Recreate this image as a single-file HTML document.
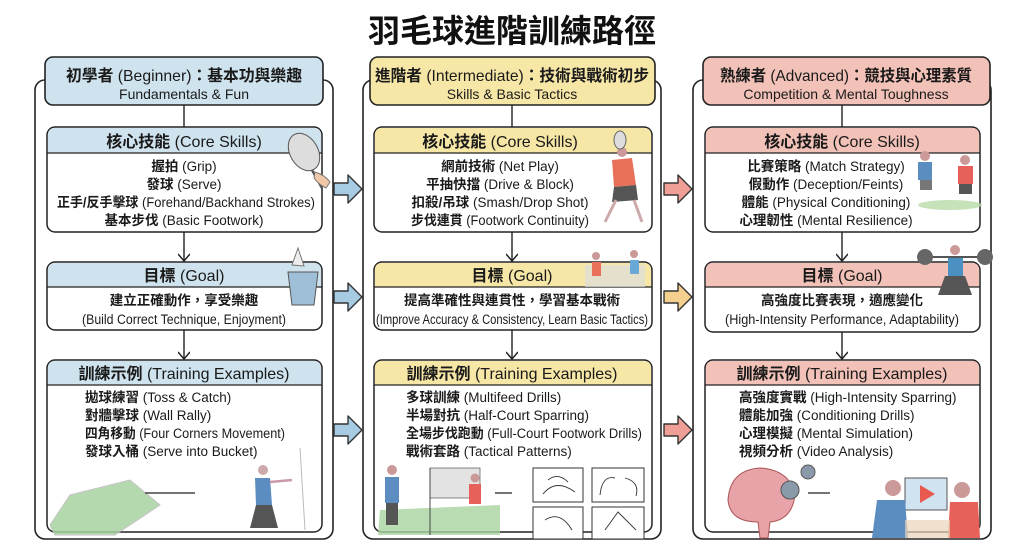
<!DOCTYPE html>
<html><head><meta charset="utf-8">
<style>
html,body{margin:0;padding:0;background:#fff;}
svg{display:block;}
text{font-family:"Liberation Sans Narrow","Liberation Sans","Noto Sans CJK TC",sans-serif;fill:#1a1a1a;}
.cj{font-family:"Liberation Sans","Noto Sans CJK TC",sans-serif;font-weight:bold;}
</style></head><body>
<svg width="1024" height="559" viewBox="0 0 1024 559" xmlns="http://www.w3.org/2000/svg">
<defs>
<marker id="ah" markerWidth="12" markerHeight="12" refX="9" refY="6" orient="auto" markerUnits="userSpaceOnUse">
<path d="M2,0 L9,6 L2,12" fill="none" stroke="#222" stroke-width="1.5"/>
</marker>
</defs>
<rect width="1024" height="559" fill="#fff"/>
<text x="512" y="42" text-anchor="middle" class="cj" font-size="32" style="fill:#111">羽毛球進階訓練路徑</text>

<g fill="none" stroke="#222" stroke-width="1.6">
<rect x="35" y="80" width="298" height="459" rx="10"/>
<rect x="363" y="80" width="298" height="459" rx="10"/>
<rect x="693" y="80" width="298" height="459" rx="10"/>
</g>

<!-- COL 1 -->
<g>
<rect x="45" y="57" width="278" height="48" rx="8" fill="#cfe3ee" stroke="#222" stroke-width="1.6"/>
<line x1="184" y1="105" x2="184" y2="127" stroke="#222" stroke-width="1.4"/>
<rect x="47" y="127" width="275" height="105" rx="8" fill="#fff" stroke="#222" stroke-width="1.5"/>
<path d="M48,153 L48,135 Q48,128 55,128 L314,128 Q321,128 321,135 L321,153 Z" fill="#cfe3ee"/>
<line x1="47" y1="153" x2="322" y2="153" stroke="#222" stroke-width="1.2"/>
<line x1="184" y1="232" x2="184" y2="261" stroke="#222" stroke-width="1.4" marker-end="url(#ah)"/>
<rect x="47" y="262" width="275" height="68" rx="8" fill="#fff" stroke="#222" stroke-width="1.5"/>
<path d="M48,287 L48,270 Q48,263 55,263 L314,263 Q321,263 321,270 L321,287 Z" fill="#cfe3ee"/>
<line x1="47" y1="287" x2="322" y2="287" stroke="#222" stroke-width="1.2"/>
<line x1="184" y1="330" x2="184" y2="359" stroke="#222" stroke-width="1.4" marker-end="url(#ah)"/>
<rect x="47" y="360" width="275" height="172" rx="8" fill="#fff" stroke="#222" stroke-width="1.5"/>
<path d="M48,385 L48,368 Q48,361 55,361 L314,361 Q321,361 321,368 L321,385 Z" fill="#cfe3ee"/>
<line x1="47" y1="385" x2="322" y2="385" stroke="#222" stroke-width="1.2"/>
<text x="184" y="81" text-anchor="middle" font-size="16" textLength="236" lengthAdjust="spacingAndGlyphs"><tspan class="cj">初學者</tspan> (Beginner)<tspan class="cj">：基本功與樂趣</tspan></text>
<text x="184" y="99" text-anchor="middle" font-size="14">Fundamentals &amp; Fun</text>
<text x="184" y="147" text-anchor="middle" font-size="16"><tspan class="cj">核心技能</tspan> (Core Skills)</text>
<text x="184" y="171" text-anchor="middle" font-size="13.5"><tspan class="cj">握拍</tspan> (Grip)</text>
<text x="184" y="189" text-anchor="middle" font-size="13.5"><tspan class="cj">發球</tspan> (Serve)</text>
<text x="186" y="207" text-anchor="middle" font-size="13.5" textLength="258" lengthAdjust="spacingAndGlyphs"><tspan class="cj">正手/反手擊球</tspan> (Forehand/Backhand Strokes)</text>
<text x="184" y="225" text-anchor="middle" font-size="13.5"><tspan class="cj">基本步伐</tspan> (Basic Footwork)</text>
<text x="184" y="281" text-anchor="middle" font-size="16"><tspan class="cj">目標</tspan> (Goal)</text>
<text x="184" y="305" text-anchor="middle" font-size="13.5" class="cj">建立正確動作，享受樂趣</text>
<text x="184" y="324" text-anchor="middle" font-size="13.5" textLength="204" lengthAdjust="spacingAndGlyphs">(Build Correct Technique, Enjoyment)</text>
<text x="184" y="379" text-anchor="middle" font-size="16"><tspan class="cj">訓練示例</tspan> (Training Examples)</text>
<text x="85" y="402" font-size="13.5"><tspan class="cj">拋球練習</tspan> (Toss &amp; Catch)</text>
<text x="85" y="420" font-size="13.5"><tspan class="cj">對牆擊球</tspan> (Wall Rally)</text>
<text x="85" y="438" font-size="13.5" textLength="200" lengthAdjust="spacingAndGlyphs"><tspan class="cj">四角移動</tspan> (Four Corners Movement)</text>
<text x="85" y="456" font-size="13.5"><tspan class="cj">發球入桶</tspan> (Serve into Bucket)</text>
<ellipse cx="304" cy="152" rx="14" ry="20" transform="rotate(-30 304 152)" fill="#ddd" stroke="#555"/>
<line x1="312" y1="170" x2="322" y2="188" stroke="#555" stroke-width="2.5"/>
<path d="M315,172 Q325,175 330,182 L326,188 Q318,184 314,178Z" fill="#f0c8a8" stroke="#777"/>
<path d="M288,272 L318,272 L314,305 L292,305Z" fill="#9fbfd8" stroke="#555"/>
<path d="M292,265 L298,248 L304,266Z" fill="#eee" stroke="#777"/>
<path d="M50,525 L70,495 L130,480 L160,505 L115,535 L55,535Z" fill="#a9d3a0" stroke="#bbb" opacity="0.85"/>
<line x1="145" y1="493" x2="195" y2="493" stroke="#222" stroke-width="1.3"/>
<line x1="300" y1="448" x2="305" y2="530" stroke="#bbb"/>
<circle cx="263" cy="470" r="5" fill="#caa" />
<path d="M255,478 L270,478 L272,505 L256,505Z" fill="#5b8dc0"/>
<path d="M256,505 L272,505 L278,528 L250,528Z" fill="#555"/>
<line x1="270" y1="482" x2="292" y2="480" stroke="#c9a" stroke-width="2.5"/>
</g>

<!-- COL 2 -->
<g>
<rect x="370" y="57" width="285" height="48" rx="8" fill="#f7e7a6" stroke="#222" stroke-width="1.6"/>
<line x1="512" y1="105" x2="512" y2="127" stroke="#222" stroke-width="1.4"/>
<rect x="374" y="127" width="278" height="105" rx="8" fill="#fff" stroke="#222" stroke-width="1.5"/>
<path d="M375,153 L375,135 Q375,128 382,128 L644,128 Q651,128 651,135 L651,153 Z" fill="#f7e7a6"/>
<line x1="374" y1="153" x2="652" y2="153" stroke="#222" stroke-width="1.2"/>
<line x1="512" y1="232" x2="512" y2="261" stroke="#222" stroke-width="1.4" marker-end="url(#ah)"/>
<rect x="374" y="262" width="278" height="68" rx="8" fill="#fff" stroke="#222" stroke-width="1.5"/>
<path d="M375,287 L375,270 Q375,263 382,263 L644,263 Q651,263 651,270 L651,287 Z" fill="#f7e7a6"/>
<line x1="374" y1="287" x2="652" y2="287" stroke="#222" stroke-width="1.2"/>
<line x1="512" y1="330" x2="512" y2="359" stroke="#222" stroke-width="1.4" marker-end="url(#ah)"/>
<rect x="374" y="360" width="278" height="172" rx="8" fill="#fff" stroke="#222" stroke-width="1.5"/>
<path d="M375,385 L375,368 Q375,361 382,361 L644,361 Q651,361 651,368 L651,385 Z" fill="#f7e7a6"/>
<line x1="374" y1="385" x2="652" y2="385" stroke="#222" stroke-width="1.2"/>
<text x="512" y="81" text-anchor="middle" font-size="16" textLength="274" lengthAdjust="spacingAndGlyphs"><tspan class="cj">進階者</tspan> (Intermediate)<tspan class="cj">：技術與戰術初步</tspan></text>
<text x="512" y="99" text-anchor="middle" font-size="14">Skills &amp; Basic Tactics</text>
<text x="500" y="147" text-anchor="middle" font-size="16"><tspan class="cj">核心技能</tspan> (Core Skills)</text>
<text x="500" y="171" text-anchor="middle" font-size="13.5"><tspan class="cj">網前技術</tspan> (Net Play)</text>
<text x="500" y="189" text-anchor="middle" font-size="13.5"><tspan class="cj">平抽快擋</tspan> (Drive &amp; Block)</text>
<text x="500" y="207" text-anchor="middle" font-size="13.5"><tspan class="cj">扣殺/吊球</tspan> (Smash/Drop Shot)</text>
<text x="500" y="225" text-anchor="middle" font-size="13.5" textLength="178" lengthAdjust="spacingAndGlyphs"><tspan class="cj">步伐連貫</tspan> (Footwork Continuity)</text>
<text x="512" y="281" text-anchor="middle" font-size="16"><tspan class="cj">目標</tspan> (Goal)</text>
<text x="512" y="305" text-anchor="middle" font-size="13.5" class="cj">提高準確性與連貫性，學習基本戰術</text>
<text x="512" y="324" text-anchor="middle" font-size="13.5" textLength="272" lengthAdjust="spacingAndGlyphs">(Improve Accuracy &amp; Consistency, Learn Basic Tactics)</text>
<text x="512" y="379" text-anchor="middle" font-size="16"><tspan class="cj">訓練示例</tspan> (Training Examples)</text>
<text x="406" y="402" font-size="13.5"><tspan class="cj">多球訓練</tspan> (Multifeed Drills)</text>
<text x="406" y="420" font-size="13.5"><tspan class="cj">半場對抗</tspan> (Half-Court Sparring)</text>
<text x="406" y="438" font-size="13.5" textLength="236" lengthAdjust="spacingAndGlyphs"><tspan class="cj">全場步伐跑動</tspan> (Full-Court Footwork Drills)</text>
<text x="406" y="456" font-size="13.5"><tspan class="cj">戰術套路</tspan> (Tactical Patterns)</text>
<circle cx="622" cy="152" r="5" fill="#c99"/>
<path d="M612,160 L632,158 L636,185 L614,187Z" fill="#e8705a"/>
<path d="M614,187 L636,185 L638,200 L612,202Z" fill="#555"/>
<line x1="616" y1="200" x2="605" y2="222" stroke="#caa" stroke-width="3"/>
<line x1="634" y1="200" x2="642" y2="222" stroke="#caa" stroke-width="3"/>
<ellipse cx="620" cy="140" rx="6" ry="9" fill="#ddd" stroke="#666"/>
<rect x="585" y="265" width="60" height="22" fill="#ddd" opacity="0.7"/>
<circle cx="596" cy="256" r="4" fill="#c99"/><circle cx="634" cy="254" r="4" fill="#c99"/>
<rect x="592" y="262" width="9" height="14" fill="#e8705a"/><rect x="630" y="260" width="9" height="14" fill="#6aa8d8"/>
<path d="M378,535 L380,510 L500,505 L500,535Z" fill="#a9d3a0" opacity="0.8"/>
<rect x="430" y="468" width="50" height="30" fill="#e3e3e3" stroke="#666" stroke-width="0.8"/>
<line x1="430" y1="468" x2="430" y2="535" stroke="#444"/>
<circle cx="392" cy="470" r="5" fill="#c99"/>
<rect x="385" y="477" width="14" height="26" fill="#5b8dc0"/>
<rect x="386" y="503" width="12" height="22" fill="#555"/>
<circle cx="475" cy="478" r="4.5" fill="#c99"/>
<rect x="469" y="484" width="12" height="20" fill="#e8605a"/>
<line x1="495" y1="493" x2="512" y2="493" stroke="#222" stroke-width="1.3"/>
<g fill="#fff" stroke="#333" stroke-width="1">
<rect x="533" y="468" width="50" height="34"/><rect x="592" y="468" width="52" height="34"/>
<rect x="533" y="507" width="50" height="32"/><rect x="592" y="507" width="52" height="32"/>
</g>
<g fill="none" stroke="#333" stroke-width="0.9">
<path d="M543,494 Q556,478 575,492"/><path d="M548,480 Q558,472 568,482"/>
<path d="M600,495 Q602,475 615,478"/><path d="M625,478 Q640,482 636,496"/>
<path d="M545,520 Q560,510 572,530"/><path d="M605,530 L618,512 L636,530"/>
</g>
</g>

<!-- COL 3 -->
<g>
<rect x="703" y="57" width="287" height="48" rx="8" fill="#f2c1b7" stroke="#222" stroke-width="1.6"/>
<line x1="842" y1="105" x2="842" y2="127" stroke="#222" stroke-width="1.4"/>
<rect x="705" y="127" width="275" height="105" rx="8" fill="#fff" stroke="#222" stroke-width="1.5"/>
<path d="M706,153 L706,135 Q706,128 713,128 L972,128 Q979,128 979,135 L979,153 Z" fill="#f2c1b7"/>
<line x1="705" y1="153" x2="980" y2="153" stroke="#222" stroke-width="1.2"/>
<line x1="842" y1="232" x2="842" y2="261" stroke="#222" stroke-width="1.4" marker-end="url(#ah)"/>
<rect x="705" y="262" width="275" height="70" rx="8" fill="#fff" stroke="#222" stroke-width="1.5"/>
<path d="M706,287 L706,270 Q706,263 713,263 L972,263 Q979,263 979,270 L979,287 Z" fill="#f2c1b7"/>
<line x1="705" y1="287" x2="980" y2="287" stroke="#222" stroke-width="1.2"/>
<line x1="842" y1="332" x2="842" y2="359" stroke="#222" stroke-width="1.4" marker-end="url(#ah)"/>
<rect x="705" y="360" width="275" height="172" rx="8" fill="#fff" stroke="#222" stroke-width="1.5"/>
<path d="M706,385 L706,368 Q706,361 713,361 L972,361 Q979,361 979,368 L979,385 Z" fill="#f2c1b7"/>
<line x1="705" y1="385" x2="980" y2="385" stroke="#222" stroke-width="1.2"/>
<text x="846" y="81" text-anchor="middle" font-size="16" textLength="252" lengthAdjust="spacingAndGlyphs"><tspan class="cj">熟練者</tspan> (Advanced)<tspan class="cj">：競技與心理素質</tspan></text>
<text x="846" y="99" text-anchor="middle" font-size="14">Competition &amp; Mental Toughness</text>
<text x="842" y="147" text-anchor="middle" font-size="16"><tspan class="cj">核心技能</tspan> (Core Skills)</text>
<text x="826" y="171" text-anchor="middle" font-size="13.5"><tspan class="cj">比賽策略</tspan> (Match Strategy)</text>
<text x="826" y="189" text-anchor="middle" font-size="13.5"><tspan class="cj">假動作</tspan> (Deception/Feints)</text>
<text x="826" y="207" text-anchor="middle" font-size="13.5"><tspan class="cj">體能</tspan> (Physical Conditioning)</text>
<text x="826" y="225" text-anchor="middle" font-size="13.5"><tspan class="cj">心理韌性</tspan> (Mental Resilience)</text>
<text x="842" y="281" text-anchor="middle" font-size="16"><tspan class="cj">目標</tspan> (Goal)</text>
<text x="842" y="305" text-anchor="middle" font-size="13.5" class="cj">高強度比賽表現，適應變化</text>
<text x="842" y="324" text-anchor="middle" font-size="13.5" textLength="234" lengthAdjust="spacingAndGlyphs">(High-Intensity Performance, Adaptability)</text>
<text x="842" y="379" text-anchor="middle" font-size="16"><tspan class="cj">訓練示例</tspan> (Training Examples)</text>
<text x="739" y="402" font-size="13.5"><tspan class="cj">高強度實戰</tspan> (High-Intensity Sparring)</text>
<text x="739" y="420" font-size="13.5"><tspan class="cj">體能加強</tspan> (Conditioning Drills)</text>
<text x="739" y="438" font-size="13.5"><tspan class="cj">心理模擬</tspan> (Mental Simulation)</text>
<text x="739" y="456" font-size="13.5"><tspan class="cj">視頻分析</tspan> (Video Analysis)</text>
<ellipse cx="950" cy="205" rx="32" ry="5" fill="#b8dba8" opacity="0.8"/>
<circle cx="925" cy="156" r="5" fill="#c99"/><rect x="918" y="162" width="14" height="18" fill="#5b8dc0"/>
<circle cx="965" cy="160" r="5" fill="#c99"/><rect x="958" y="166" width="15" height="18" fill="#e8605a"/>
<rect x="920" y="180" width="12" height="10" fill="#777"/><rect x="959" y="184" width="13" height="10" fill="#555"/>
<line x1="920" y1="257" x2="990" y2="257" stroke="#555" stroke-width="2"/>
<circle cx="925" cy="257" r="8" fill="#666"/><circle cx="985" cy="257" r="8" fill="#666"/>
<circle cx="955" cy="250" r="5" fill="#c99"/>
<rect x="948" y="258" width="15" height="18" fill="#4a90c0"/>
<path d="M945,276 L965,276 L972,295 L938,295Z" fill="#555"/>
<path d="M728,500 Q730,470 760,468 Q790,470 795,495 Q792,520 770,522 L768,538 L760,538 L758,522 Q730,522 728,500Z" fill="#e8a3a8" stroke="#a55"/>
<circle cx="790" cy="490" r="9" fill="#8a9aa8" stroke="#555"/>
<circle cx="808" cy="472" r="7" fill="#8a9aa8" stroke="#555"/>
<line x1="808" y1="493" x2="830" y2="493" stroke="#222" stroke-width="1.3"/>
<rect x="905" y="478" width="42" height="32" fill="#cfe3f0" stroke="#555"/>
<path d="M920,485 L935,494 L920,503Z" fill="#e85a50"/>
<circle cx="893" cy="488" r="8" fill="#c99"/>
<path d="M877,500 L905,500 L908,538 L872,538Z" fill="#5b8dc0"/>
<circle cx="962" cy="490" r="8" fill="#c99"/>
<path d="M950,502 L978,502 L980,538 L948,538Z" fill="#e8605a"/>
<rect x="905" y="520" width="45" height="18" fill="#e8d4b8" opacity="0.7"/>
</g>

<g stroke="#333" stroke-width="1.4" stroke-linejoin="round">
<path d="M334,183 L348,183 L348,175 L362,189 L348,203 L348,195 L334,195Z" fill="#a6cbe3"/>
<path d="M334,291 L348,291 L348,283 L362,297 L348,311 L348,303 L334,303Z" fill="#a6cbe3"/>
<path d="M334,424 L348,424 L348,416 L362,430 L348,444 L348,436 L334,436Z" fill="#a6cbe3"/>
<path d="M664,183 L678,183 L678,175 L692,189 L678,203 L678,195 L664,195Z" fill="#ef9f95"/>
<path d="M664,291 L678,291 L678,283 L692,297 L678,311 L678,303 L664,303Z" fill="#f5cf8e"/>
<path d="M664,424 L678,424 L678,416 L692,430 L678,444 L678,436 L664,436Z" fill="#ef9f95"/>
</g>
</svg>
</body></html>
